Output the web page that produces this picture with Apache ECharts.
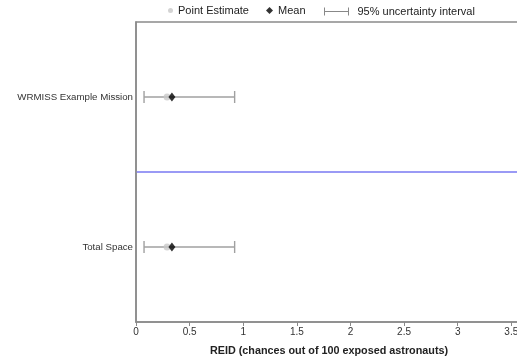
<!DOCTYPE html>
<html>
<head>
<meta charset="utf-8">
<script src="https://cdn.jsdelivr.net/npm/echarts@6/dist/echarts.min.js"></script>
<style>html,body{margin:0;padding:0;background:#fff}#c{width:517px;height:360px}</style>
</head>
<body>
<div id="c"></div>
<script>
const categories = ['WRMISS Example Mission', 'Total Space'];
const intervalLow = [0.075, 0.075];
const intervalHigh = [0.92, 0.92];
const pointEstimate = [0.29, 0.29];
const meanValue = [0.335, 0.335];
const xTicks = [0, 0.5, 1, 1.5, 2, 2.5, 3, 3.5];

const chart = echarts.init(document.getElementById('c'));
const font = 'Liberation Sans, Arial, sans-serif';
const intervalData = categories.map((c, i) => [intervalLow[i], intervalHigh[i], i]);
const legendText = { fontFamily: font, fontSize: 11, color: '#222' };

chart.setOption({
  animation: false,
  grid: { left: 136, top: 22, bottom: 38, width: 386, show: true, borderColor: '#8a8a8a', borderWidth: 1.5,
    containLabel: false, outerBoundsMode: 'none' },
  legend: [
    { data: [{ name: 'Point Estimate', icon: 'circle' }], left: 168, top: 5, padding: 0, itemWidth: 5, itemHeight: 5,
      textStyle: legendText },
    { data: [{ name: 'Mean', icon: 'diamond' }], left: 266, top: 5, padding: 0, itemWidth: 7, itemHeight: 7,
      textStyle: legendText },
    { data: [{ name: '95% uncertainty interval', icon: 'path://M0,0 L0,10 M0,5 L30,5 M30,0 L30,10' }], left: 322, top: 5, padding: 0,
      itemWidth: 26, itemHeight: 8,
      itemStyle: { color: 'none', borderColor: '#888', borderWidth: 1 },
      textStyle: Object.assign({ padding: [0, 0, 0, 3] }, legendText) }
  ],
  xAxis: {
    type: 'value', min: 0, max: 3.6, interval: 0.5,
    name: 'REID (chances out of 100 exposed astronauts)', nameLocation: 'middle', nameGap: 24,
    nameTextStyle: { fontFamily: font, fontSize: 10.8, fontWeight: 'bold', color: '#222' },
    axisLine: { show: true, lineStyle: { color: '#8a8a8a', width: 1.5 } },
    axisTick: { show: true, length: 4, lineStyle: { color: '#8a8a8a' } },
    axisLabel: { fontFamily: font, fontSize: 10, color: '#333', margin: 5, showMaxLabel: false,
      formatter: v => xTicks.includes(v) ? String(v) : '' },
    splitLine: { show: false }
  },
  yAxis: {
    type: 'category', data: categories, inverse: true,
    axisLine: { show: true, lineStyle: { color: '#8a8a8a', width: 1.5 } },
    axisTick: { show: false },
    axisLabel: { fontFamily: font, fontSize: 9.7, color: '#333', margin: 3 },
    splitLine: { show: true, lineStyle: { color: ['transparent', '#9a9af5', 'transparent'], width: 2 } }
  },
  series: [
    {
      name: '95% uncertainty interval', type: 'custom', data: intervalData, z: 2,
      encode: { x: [0, 1], y: 2 },
      itemStyle: { color: '#999' },
      renderItem: function (params, api) {
        const y = api.value(2);
        const a = api.coord([api.value(0), y]);
        const b = api.coord([api.value(1), y]);
        const h = 6;
        const st = { stroke: '#a0a0a0', lineWidth: 1.4, fill: 'none' };
        return { type: 'group', children: [
          { type: 'line', shape: { x1: a[0], y1: a[1], x2: b[0], y2: b[1] }, style: st },
          { type: 'line', shape: { x1: a[0], y1: a[1] - h, x2: a[0], y2: a[1] + h }, style: st },
          { type: 'line', shape: { x1: b[0], y1: b[1] - h, x2: b[0], y2: b[1] + h }, style: st }
        ] };
      }
    },
    {
      name: 'Point Estimate', type: 'scatter', symbol: 'circle', symbolSize: 7, z: 3,
      itemStyle: { color: '#c8c8c8' },
      data: categories.map((c, i) => [pointEstimate[i], i])
    },
    {
      name: 'Mean', type: 'scatter', symbol: 'diamond', symbolSize: [7, 9], z: 4,
      itemStyle: { color: '#000' },
      data: categories.map((c, i) => [meanValue[i], i])
    }
  ]
});
</script>
</body>
</html>
